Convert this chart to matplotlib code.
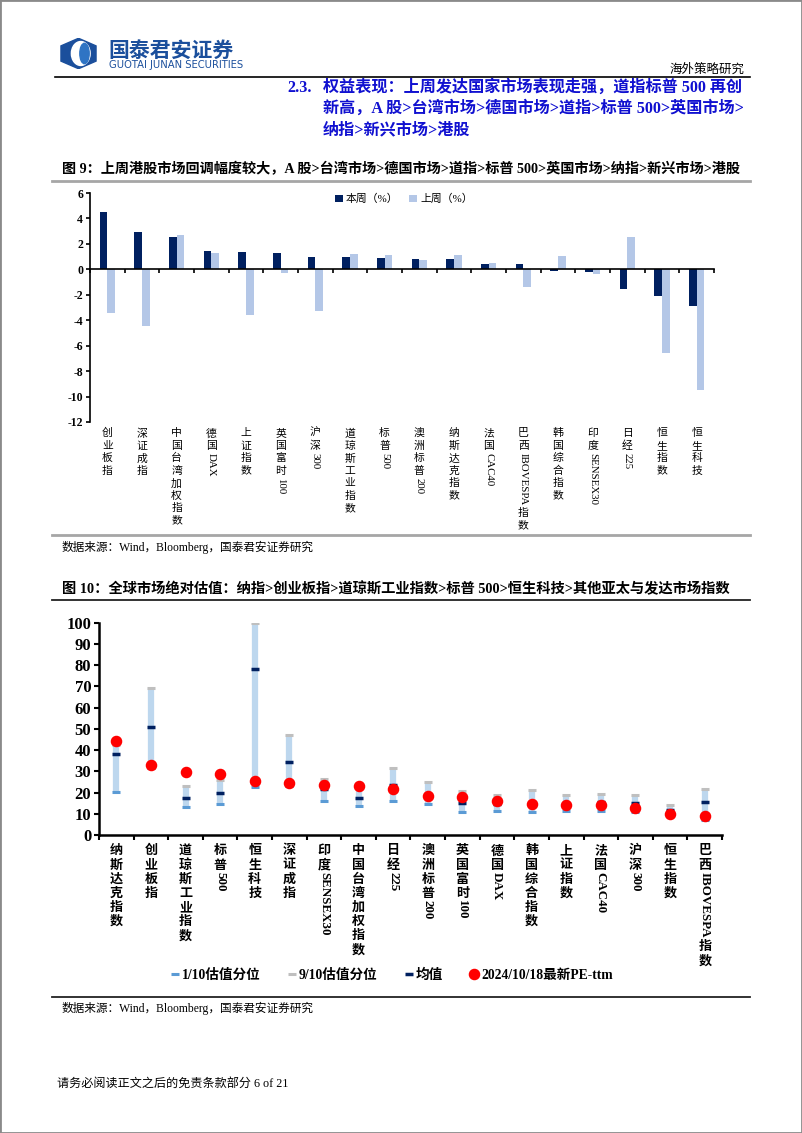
import re
import matplotlib
matplotlib.use("Agg")
import matplotlib.pyplot as plt
from matplotlib.lines import Line2D
from matplotlib.patches import Rectangle, RegularPolygon, Ellipse
from matplotlib.transforms import offset_copy

CJK = "Noto Sans CJK SC"
SERIF = "Liberation Serif"
MIX = [SERIF, CJK]

# figure 9: weekly returns
ret_labels = ["创业板指", "深证成指", "中国台湾加权指数", "德国DAX", "上证指数", "英国富时100",
              "沪深300", "道琼斯工业指数", "标普500", "澳洲标普200", "纳斯达克指数", "法国CAC40",
              "巴西 IBOVESPA指数", "韩国综合指数", "印度SENSEX30", "日经225", "恒生指数", "恒生科技"]
this_week = [4.50, 2.97, 2.58, 1.45, 1.37, 1.29, 1.00, 0.95, 0.87, 0.82,
             0.82, 0.45, 0.39, -0.10, -0.18, -1.58, -2.10, -2.89]
last_week = [-3.42, -4.47, 2.71, 1.32, -3.58, -0.30, -3.29, 1.21, 1.10, 0.76,
             1.10, 0.47, -1.37, 1.05, -0.39, 2.53, -6.58, -9.47]

# figure 10: PE-ttm valuation
pe_labels = ["纳斯达克指数", "创业板指", "道琼斯工业指数", "标普500", "恒生科技", "深证成指",
             "印度SENSEX30", "中国台湾加权指数", "日经225", "澳洲标普200", "英国富时100", "德国DAX",
             "韩国综合指数", "上证指数", "法国CAC40", "沪深300", "恒生指数", "巴西IBOVESPA指数"]
p10 = [20.2, 31.7, 13.3, 14.8, 22.6, 23.3, 16.0, 13.6, 16.0, 14.5, 10.8, 11.1, 10.8, 11.1, 11.1, 11.0, 9.0, 6.9]
p90 = [42.5, 69.1, 23.3, 26.0, 100.0, 47.0, 26.6, 24.0, 31.4, 25.1, 20.7, 18.8, 21.2, 19.0, 19.3, 19.0, 14.0, 21.8]
pe_mean = [38.1, 50.7, 17.6, 19.8, 78.0, 34.3, 21.6, 17.3, 23.4, 18.0, 15.3, 14.8, 14.5, 14.0, 15.7, 14.9, 11.6, 15.4]
pe_now = [44.2, 33.1, 29.9, 28.8, 25.6, 24.6, 23.6, 23.0, 21.6, 18.5, 18.0, 16.1, 14.5, 14.3, 14.2, 12.8, 10.1, 9.1]

W, H = 802, 1133
fig = plt.figure(figsize=(W / 100, H / 100), dpi=100)
renderer = fig.canvas.get_renderer()


def fx(px):
    return px / W


def fy(px):
    return 1 - px / H


def hline(x0, x1, y, color="black", lw=1.0):
    fig.add_artist(Line2D([fx(x0), fx(x1)], [fy(y), fy(y)], transform=fig.transFigure, color=color, lw=lw))


def vlabel(ax, x, text, start, step, size, weight):
    # excel style vertical label: cjk upright, latin runs rotated
    trans = ax.get_xaxis_transform()
    cur = start
    for tok in re.findall(r"[A-Za-z0-9 ]+|.", text):
        tok = tok.strip()
        if not tok:
            continue
        tr = offset_copy(trans, fig=fig, x=0, y=-cur, units="points")
        if tok.isascii():
            t = ax.text(x, 0, tok, transform=tr, rotation=-90, ha="center", va="top",
                        fontsize=size, family=SERIF, weight=weight, clip_on=False)
            cur += t.get_window_extent(renderer).height * 72 / fig.dpi + 1.5
        else:
            ax.text(x, 0, tok, transform=tr, ha="center", va="top", fontsize=size,
                    family=CJK, weight=weight, clip_on=False)
            cur += step


# page frame and header
fig.add_artist(Rectangle((0, 0), 1, 1, transform=fig.transFigure, fill=False, edgecolor="#8a8a8a", lw=2))
lax = fig.add_axes([fx(56), fy(69), fx(45), 31 / H])
lax.set_xlim(-1.2, 1.2)
lax.set_ylim(-1.1, 1.1)
lax.axis("off")
lax.add_patch(RegularPolygon((0, 0), 6, radius=1.08, color="#1b4f9c"))
lax.add_patch(Ellipse((0.12, 0), 1.0, 1.7, color="white"))
lax.add_patch(Ellipse((0.32, 0), 0.5, 1.45, color="#2f74c4"))
fig.text(fx(108), fy(50), "国泰君安证券", family=CJK, weight="bold", fontsize=15, color="#1b4f9c", va="center")
fig.text(fx(109), fy(65), "GUOTAI JUNAN SECURITIES", family="DejaVu Sans", fontsize=7.2, color="#1b4f9c", va="center")
fig.text(fx(745), fy(69), "海外策略研究", family=CJK, fontsize=9, ha="right", va="center")
hline(55, 750, 77, lw=1.2)

blue = "#1010d0"
fig.text(fx(287), fy(88), "2.3.", family=MIX, weight="bold", fontsize=11.6, color=blue, va="center")
head = ["权益表现：上周发达国家市场表现走强，道指标普 500 再创",
        "新高，A 股>台湾市场>德国市场>道指>标普 500>英国市场>",
        "纳指>新兴市场>港股"]
for i, line in enumerate(head):
    fig.text(fx(323), fy(88 + 21 * i), line, family=MIX, weight="bold", fontsize=11.6, color=blue, va="center")

# figure 9
fig.text(fx(62), fy(169), "图 9：上周港股市场回调幅度较大，A 股>台湾市场>德国市场>道指>标普 500>英国市场>纳指>新兴市场>港股",
         family=MIX, weight="bold", fontsize=10.2, va="center")
hline(52, 750, 181, color="#a6a6a6", lw=2)

ax1 = fig.add_axes([fx(90), fy(422), fx(714) - fx(90), (422 - 193) / H])
xs = list(range(len(ret_labels)))
bw = 0.22
ax1.bar([x - bw / 2 for x in xs], this_week, bw, color="#002060", label="本周（%）")
ax1.bar([x + bw / 2 for x in xs], last_week, bw, color="#b4c7e7", label="上周（%）")
ax1.set_xlim(-0.5, len(xs) - 0.5)
ax1.set_ylim(-12, 6)
ax1.set_yticks(range(-12, 7, 2))
ax1.set_yticklabels([str(v) for v in range(-12, 7, 2)], family=SERIF, weight="bold", fontsize=8.5)
ax1.set_xticks([x - 0.5 for x in xs] + [len(xs) - 0.5])
ax1.set_xticklabels([])
ax1.spines["bottom"].set_position(("data", 0))
ax1.spines["top"].set_visible(False)
ax1.spines["right"].set_visible(False)
for s in ("left", "bottom"):
    ax1.spines[s].set_linewidth(1.2)
ax1.tick_params(axis="both", direction="out", length=3, width=1.2, pad=2)
for x, lab in zip(xs, ret_labels):
    vlabel(ax1, x, lab, 4.5, 9.0, 7.8, "normal")
ax1.legend(loc="center", bbox_to_anchor=(fx(404), fy(199)), bbox_transform=fig.transFigure, ncol=2,
           frameon=False, handlelength=0.7, handleheight=0.7, handletextpad=0.3, columnspacing=1.0,
           prop={"family": MIX, "size": 7.8})

hline(52, 750, 535, color="#a6a6a6", lw=2)
fig.text(fx(62), fy(547), "数据来源：Wind，Bloomberg，国泰君安证券研究", family=MIX, fontsize=8.4, va="center")

# figure 10
fig.text(fx(62), fy(589), "图 10：全球市场绝对估值：纳指>创业板指>道琼斯工业指数>标普 500>恒生科技>其他亚太与发达市场指数",
         family=MIX, weight="bold", fontsize=10.3, va="center")
hline(52, 750, 600, color="#222222", lw=1.3)

ax2 = fig.add_axes([fx(99), fy(835), fx(722) - fx(99), (835 - 622.7) / H])
xs2 = list(range(len(pe_labels)))
ax2.vlines(xs2, p10, p90, color="#bdd7ee", lw=4.5, zorder=2)
ax2.plot(xs2, p10, ls="none", marker="_", ms=6, mew=2.2, color="#5b9bd5", zorder=3, label="1/10估值分位")
ax2.plot(xs2, p90, ls="none", marker="_", ms=6, mew=2.2, color="#bfbfbf", zorder=3, label="9/10估值分位")
ax2.plot(xs2, pe_mean, ls="none", marker="_", ms=6, mew=2.5, color="#002060", zorder=4, label="均值")
ax2.plot(xs2, pe_now, ls="none", marker="o", ms=7.3, color="#ff0000", zorder=5, label="2024/10/18最新PE-ttm")
ax2.set_xlim(-0.5, len(xs2) - 0.5)
ax2.set_ylim(0, 100)
ax2.set_yticks(range(0, 101, 10))
ax2.set_yticklabels([str(v) for v in range(0, 101, 10)], family=SERIF, weight="bold", fontsize=12)
ax2.set_xticks([x - 0.5 for x in xs2] + [len(xs2) - 0.5])
ax2.set_xticklabels([])
ax2.spines["top"].set_visible(False)
ax2.spines["right"].set_visible(False)
for s in ("left", "bottom"):
    ax2.spines[s].set_linewidth(1.8)
ax2.tick_params(axis="both", direction="out", length=3.5, width=1.5, pad=2)
for x, lab in zip(xs2, pe_labels):
    vlabel(ax2, x, lab, 6, 10.2, 9.4, "bold")
ax2.legend(loc="center", bbox_to_anchor=(fx(392), fy(975)), bbox_transform=fig.transFigure, ncol=4,
           frameon=False, handlelength=0.6, handletextpad=0.2, columnspacing=2.0,
           prop={"family": MIX, "weight": "bold", "size": 9.8})

hline(52, 750, 997, color="#222222", lw=1.3)
fig.text(fx(62), fy(1008), "数据来源：Wind，Bloomberg，国泰君安证券研究", family=MIX, fontsize=8.4, va="center")

fig.text(fx(57), fy(1084), "请务必阅读正文之后的免责条款部分 6 of 21", family=MIX, fontsize=8.7, va="center")

fig.savefig("out.png", dpi=100)
